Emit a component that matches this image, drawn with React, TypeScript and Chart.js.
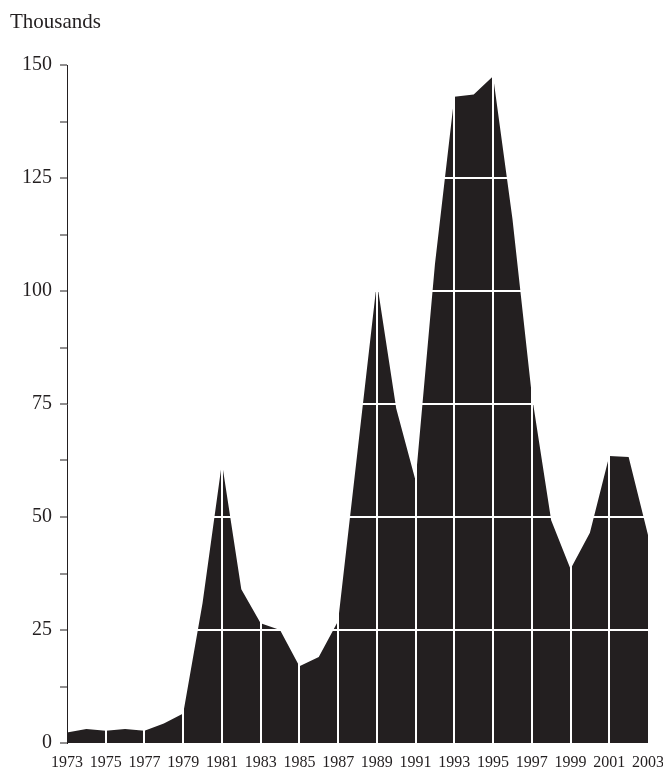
import React, { useEffect, useRef } from "react";
import { Chart, registerables } from "chart.js";

Chart.register(...registerables);

const years: number[] = [
  1973, 1974, 1975, 1976, 1977, 1978, 1979, 1980, 1981, 1982, 1983, 1984, 1985, 1986, 1987, 1988,
  1989, 1990, 1991, 1992, 1993, 1994, 1995, 1996, 1997, 1998, 1999, 2000, 2001, 2002, 2003,
];
const values: number[] = [
  2.3, 3.1, 2.7, 3.1, 2.7, 4.3, 6.5, 31, 62, 34, 26.5, 25, 17, 19, 27, 64.5,
  102, 74, 58, 106, 143, 143.5, 147.5, 116, 77, 49.3, 38.5, 46.5, 63.5, 63.3, 46,
];
const yTickStep = 12.5;
const yLabelStep = 25;
const yMin = 0;
const yMax = 150;
const xStep = 2;
const axisTitle = "Thousands";

const FONT = "'Liberation Serif', 'Times New Roman', serif";
const INK = "#231f20";

export default function App() {
  const ref = useRef<HTMLCanvasElement | null>(null);

  useEffect(() => {
    if (!ref.current) return;
    const titlePlugin = {
      id: "unitTitle",
      afterDraw(chart: any) {
        const ctx = chart.ctx;
        ctx.save();
        ctx.fillStyle = INK;
        ctx.font = `21px ${FONT}`;
        ctx.textBaseline = "alphabetic";
        ctx.textAlign = "left";
        ctx.fillText(axisTitle, 10, 28);
        ctx.restore();
      },
    };
    const xMin = years[0];
    const xMax = years[years.length - 1];
    const chart = new Chart(ref.current, {
      type: "line",
      data: {
        datasets: [
          {
            data: years.map((y, i) => ({ x: y, y: values[i] })),
            backgroundColor: INK,
            borderWidth: 0,
            borderColor: INK,
            pointRadius: 0,
            tension: 0,
            fill: "origin",
          },
        ],
      },
      options: {
        responsive: false,
        animation: false,
        devicePixelRatio: 1,
        layout: { padding: { top: 65, right: 15, left: 0, bottom: 0 } },
        plugins: { legend: { display: false }, tooltip: { enabled: false }, title: { display: false } },
        scales: {
          x: {
            type: "linear",
            min: xMin,
            max: xMax,
            afterFit: (s: any) => {
              s.height = 27;
              s.paddingLeft = 0;
              s.paddingRight = 0;
            },
            ticks: {
              stepSize: xStep,
              autoSkip: false,
              maxRotation: 0,
              padding: 10,
              color: INK,
              font: { family: FONT, size: 16 },
              callback: (v: any) => String(v),
            },
            grid: {
              z: 1,
              drawTicks: false,
              lineWidth: 2,
              color: (c: any) => {
                const v = c.tick ? c.tick.value : 0;
                return v > xMin && v < xMax ? "#ffffff" : "rgba(0,0,0,0)";
              },
            },
            border: { display: false },
          },
          y: {
            type: "linear",
            min: yMin,
            max: yMax,
            afterFit: (s: any) => {
              s.width = 67;
            },
            ticks: {
              stepSize: yTickStep,
              padding: 8,
              color: INK,
              font: { family: FONT, size: 20 },
              callback: (v: any) => (Number(v) % yLabelStep === 0 ? String(v) : ""),
            },
            grid: {
              z: 1,
              drawTicks: true,
              tickLength: 7,
              tickWidth: 1,
              tickColor: INK,
              lineWidth: 2,
              color: (c: any) => {
                const v = c.tick ? c.tick.value : 0;
                return v % yLabelStep === 0 && v > yMin && v < yMax ? "#ffffff" : "rgba(0,0,0,0)";
              },
            },
            border: { display: true, color: INK, width: 1, z: 2 },
          },
        },
      },
      plugins: [titlePlugin],
    });
    return () => chart.destroy();
  }, []);

  return (
    <div style={{ position: "absolute", left: 0, top: 0, width: 663, height: 770, background: "#fff" }}>
      <canvas ref={ref} width={663} height={770} style={{ width: 663, height: 770, display: "block" }} />
    </div>
  );
}
